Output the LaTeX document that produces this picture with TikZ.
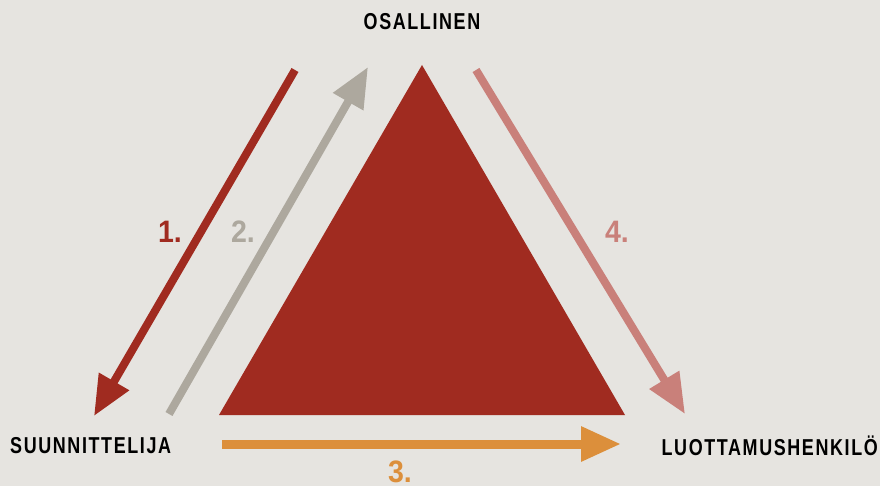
\documentclass[tikz,border=0pt]{standalone}
\usepackage{fontspec}
\setmainfont{Liberation Sans}
\newfontfamily\lblfont[FakeStretch=0.78,LetterSpace=7]{Liberation Sans}
\newfontfamily\numfont[FakeStretch=0.92]{Liberation Sans}
\usetikzlibrary{arrows.meta}
\definecolor{bg}{HTML}{E6E4E0}
\definecolor{dred}{HTML}{A02B20}
\definecolor{gry}{HTML}{ADA89E}
\definecolor{pnk}{HTML}{C9807A}
\definecolor{orng}{HTML}{DC8F3B}
\begin{document}
\begin{tikzpicture}[x=1pt,y=-1pt,
  lbl/.style={font=\lblfont\bfseries\fontsize{23}{25}\selectfont,text=black,inner sep=0pt},
  num/.style={font=\numfont\bfseries\fontsize{31}{33}\selectfont,inner sep=0pt},
  arr/.style={line width=8pt,-{Triangle[length=40pt,width=33pt]}}]
\fill[bg] (0,0) rectangle (880,486);
\useasboundingbox (0,0) rectangle (880,486);
% triangle
\coordinate (apex) at (422,65);
\coordinate (bl) at (219,415);
\coordinate (br) at (625,415);
\fill[dred] (apex) -- (bl) -- (br) -- cycle;
% labels
\node[lbl] (osa) at (422,22) {OSALLINEN};
\node[lbl,anchor=west] (suu) at (10,446) {SUUNNITTELIJA};
\node[lbl,anchor=east] (luo) at (878,446) {LUOTTAMUSHENKILÖ};
% arrow coordinates
\coordinate (a1s) at (295,70);  \coordinate (a1e) at (94,416);
\coordinate (a2s) at (169,414); \coordinate (a2e) at (368,67);
\coordinate (a4s) at (476,70);  \coordinate (a4e) at (685,414);
\coordinate (a3s) at (222,444); \coordinate (a3e) at (621,444);
\draw[arr,dred] (a1s) -- (a1e);
\draw[arr,gry] (a2s) -- (a2e);
\draw[arr,pnk] (a4s) -- (a4e);
\draw[arr,orng,line width=9pt] (a3s) -- (a3e);
% numbers
\node[num,text=dred] (n1) at (170,232) {1.};
\node[num,text=gry] (n2) at (243,232) {2.};
\node[num,text=pnk] (n4) at (617,232) {4.};
\node[num,text=orng] (n3) at (400,472) {3.};
\end{tikzpicture}
\end{document}
